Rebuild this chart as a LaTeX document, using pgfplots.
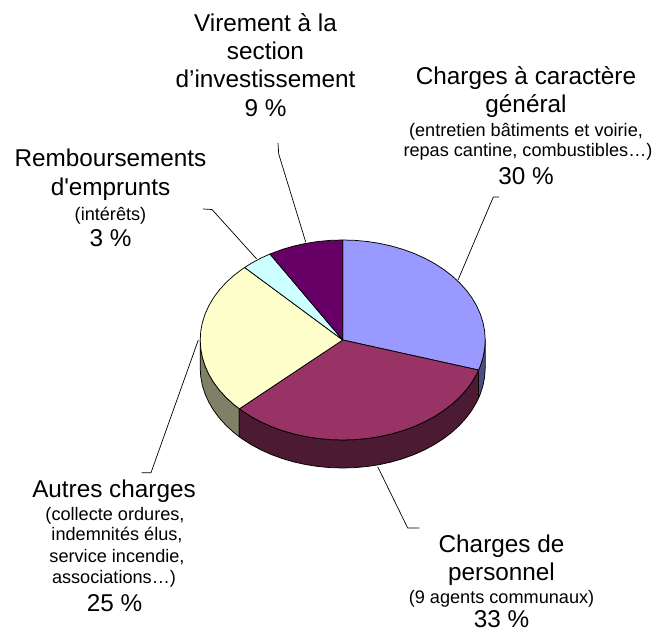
\documentclass[border=0pt]{standalone}
\usepackage{fontspec}
\setmainfont{Liberation Sans}[Ligatures=TeXOff]
\usepackage{pgfplots}
\pgfplotsset{compat=1.18}
\definecolor{cblue}{HTML}{9999FF}
\definecolor{cmaroon}{HTML}{993366}
\definecolor{cyellow}{HTML}{FFFFCC}
\definecolor{ccyan}{HTML}{CCFFFF}
\definecolor{cpurple}{HTML}{660066}
\definecolor{dblue}{HTML}{4D4D80}
\definecolor{dmaroon}{HTML}{4D1A33}
\definecolor{dyellow}{HTML}{808066}
\pgfplotsset{page/.style={hide axis,scale only axis,width=669bp,height=632bp,clip=false,anchor=south west,at={(0,0)}},
 face/.style={draw=black,line width=0.75bp,line join=round}}
\newcommand{\lgtxt}[1]{\fontsize{24.4}{28}\selectfont #1}
\newcommand{\smtxt}[1]{\fontsize{18.2}{21}\selectfont #1}
\begin{document}
\begin{tikzpicture}
\path[use as bounding box] (0,0) rectangle (669bp,632bp);
% pie: one x unit = 142.5 px, one y unit = 100 px
\begin{axis}[page,xmin=-2.40491,xmax=2.28982,ymin=-2.92,ymax=3.40]
% side walls
\addplot[face,fill=dblue] coordinates {(.9537,-.3007)(.9659,-.2588)(.9848,-.1736)(.9962,-.0872)(1,0)(1,-.28)(.9962,-.3672)(.9848,-.4536)(.9659,-.5388)(.9537,-.5807)(.9537,-.3007)};
\addplot[face,fill=dyellow] coordinates {(-1,0)(-.9962,-.0872)(-.9848,-.1736)(-.9659,-.2588)(-.9397,-.3420)(-.9063,-.4226)(-.8660,-.5)(-.8192,-.5736)(-.7660,-.6428)(-.7254,-.6884)(-.7254,-.9684)(-.7660,-.9228)(-.8192,-.8536)(-.8660,-.78)(-.9063,-.7026)(-.9397,-.6220)(-.9659,-.5388)(-.9848,-.4536)(-.9962,-.3672)(-1,-.28)(-1,0)};
\addplot[face,fill=dmaroon] coordinates {(.9537,-.3007)(.9397,-.3420)(.9063,-.4226)(.8660,-.5)(.8192,-.5736)(.7660,-.6428)(.7071,-.7071)(.6428,-.7660)(.5736,-.8192)(.5,-.8660)(.4226,-.9063)(.3420,-.9397)(.2588,-.9659)(.1736,-.9848)(.0872,-.9962)(0,-1)(-.0872,-.9962)(-.1736,-.9848)(-.2588,-.9659)(-.3420,-.9397)(-.4226,-.9063)(-.5,-.8660)(-.5736,-.8192)(-.6428,-.7660)(-.7071,-.7071)(-.7254,-.6884)
(-.7254,-.9684)(-.7071,-.9871)(-.6428,-1.0460)(-.5736,-1.0992)(-.5,-1.1460)(-.4226,-1.1863)(-.3420,-1.2197)(-.2588,-1.2459)(-.1736,-1.2648)(-.0872,-1.2762)(0,-1.28)(.0872,-1.2762)(.1736,-1.2648)(.2588,-1.2459)(.3420,-1.2197)(.4226,-1.1863)(.5,-1.1460)(.5736,-1.0992)(.6428,-1.0460)(.7071,-.9871)(.7660,-.9228)(.8192,-.8536)(.8660,-.78)(.9063,-.7026)(.9397,-.6220)(.9537,-.5807)(.9537,-.3007)};
% top faces: (angle, radius)
\addplot[face,fill=cblue,data cs=polar] coordinates {(0,0)(90,1)(85,1)(80,1)(75,1)(70,1)(65,1)(60,1)(55,1)(50,1)(45,1)(40,1)(35,1)(30,1)(25,1)(20,1)(15,1)(10,1)(5,1)(0,1)(-5,1)(-10,1)(-15,1)(-17.5,1)(0,0)};
\addplot[face,fill=cmaroon,data cs=polar] coordinates {(0,0)(-17.5,1)(-20,1)(-25,1)(-30,1)(-35,1)(-40,1)(-45,1)(-50,1)(-55,1)(-60,1)(-65,1)(-70,1)(-75,1)(-80,1)(-85,1)(-90,1)(-95,1)(-100,1)(-105,1)(-110,1)(-115,1)(-120,1)(-125,1)(-130,1)(-135,1)(-136.5,1)(0,0)};
\addplot[face,fill=cyellow,data cs=polar] coordinates {(0,0)(223.5,1)(220,1)(215,1)(210,1)(205,1)(200,1)(195,1)(190,1)(185,1)(180,1)(175,1)(170,1)(165,1)(160,1)(155,1)(150,1)(145,1)(140,1)(135,1)(133.5,1)(0,0)};
\addplot[face,fill=ccyan,data cs=polar] coordinates {(0,0)(133.5,1)(130,1)(125,1)(120.7,1)(0,0)};
\addplot[face,fill=cpurple,data cs=polar] coordinates {(0,0)(120.7,1)(115,1)(110,1)(105,1)(100,1)(95,1)(90,1)(0,0)};
\end{axis}
% leaders and labels: pixel coordinates of the reference
\begin{axis}[page,xmin=0,xmax=669,ymin=0,ymax=632,y dir=reverse,
  nodes={anchor=base,inner sep=0pt,outer sep=0pt,text=black}]
\addplot[black,line width=0.7bp] coordinates {(278,143)(278.7,154)(305.7,242)};
\addplot[black,line width=0.7bp] coordinates {(203,209)(212,209.5)(256.7,259)};
\addplot[black,line width=0.7bp] coordinates {(499,197)(493.3,197)(458,280)};
\addplot[black,line width=0.7bp] coordinates {(141.6,472.7)(151,472.7)(198.3,340)};
\addplot[black,line width=0.7bp] coordinates {(377.7,466.7)(407.7,528)(419.3,528)};
\node at (axis cs:265.5,31.7) {\lgtxt{Virement à la}};
\node at (axis cs:265.5,60) {\lgtxt{section}};
\node at (axis cs:265.5,87.5) {\lgtxt{d’investissement}};
\node at (axis cs:265.5,116.7) {\lgtxt{9 \%}};
\node at (axis cs:110.5,166.7) {\lgtxt{Remboursements}};
\node at (axis cs:110.5,195) {\lgtxt{d'emprunts}};
\node at (axis cs:110.5,220) {\smtxt{(intérêts)}};
\node at (axis cs:110.5,246.7) {\lgtxt{3 \%}};
\node at (axis cs:526,85) {\lgtxt{Charges à caractère}};
\node at (axis cs:526,113) {\lgtxt{général}};
\node at (axis cs:526,136.7) {\smtxt{(entretien bâtiments et voirie,}};
\node at (axis cs:528,157) {\smtxt{repas cantine, combustibles…)}};
\node at (axis cs:526,185) {\lgtxt{30 \%}};
\node at (axis cs:114,497) {\lgtxt{Autres charges}};
\node at (axis cs:115,520) {\smtxt{(collecte ordures,}};
\node at (axis cs:117,540.7) {\smtxt{indemnités élus,}};
\node at (axis cs:117,562) {\smtxt{service incendie,}};
\node at (axis cs:114,583) {\smtxt{associations…)}};
\node at (axis cs:114.5,611.7) {\lgtxt{25 \%}};
\node at (axis cs:501.5,552.7) {\lgtxt{Charges de}};
\node at (axis cs:501.5,580) {\lgtxt{personnel}};
\node at (axis cs:501.5,603) {\smtxt{(9 agents communaux)}};
\node at (axis cs:501.5,627) {\lgtxt{33 \%}};
\end{axis}
\end{tikzpicture}
\end{document}
